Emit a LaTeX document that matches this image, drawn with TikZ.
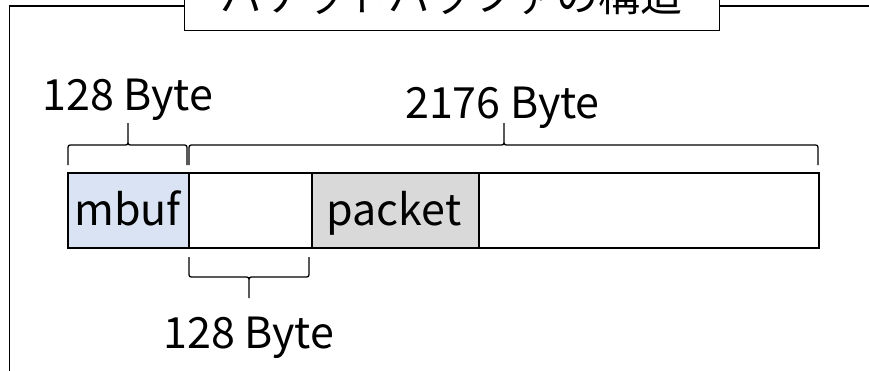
\documentclass[tikz,border=0pt]{standalone}
\usepackage{fontspec}
\setmainfont{Noto Sans CJK JP}
\definecolor{mbufblue}{HTML}{DAE3F3}
\definecolor{pktgray}{HTML}{D9D9D9}
\begin{document}
\begin{tikzpicture}[x=1pt,y=-1pt,
  cell/.style={draw=black, line width=1.6pt, inner sep=0pt, minimum height=75pt},
  lbl/.style={font=\fontsize{43}{46}\selectfont, inner sep=0pt, anchor=base},
  brace/.style={draw=black, line width=1.3pt},
  frame/.style={draw=black, line width=1.3pt}]
\useasboundingbox (0,0) rectangle (869,370);
\clip (0,0) rectangle (869,370);

% outer frame and title box
\draw[frame] (9.3,6) rectangle (900,420);
\node[frame, fill=white, anchor=south west, minimum width=535pt, minimum height=80pt, inner sep=0pt] (titlebox) at (184,31) {};
\node[font=\fontsize{42}{46}\selectfont, inner sep=0pt, anchor=base] (title) at (451,11) {パケットバッファの構造};

% buffer cells
\node[cell, fill=mbufblue, minimum width=121pt, anchor=north west] (mbuf) at (67,172) {};
\node[cell, fill=white, minimum width=123pt, anchor=north west] (head) at (188,172) {};
\node[cell, fill=pktgray, minimum width=167pt, anchor=north west] (pkt) at (311,172) {};
\node[cell, fill=white, minimum width=340pt, anchor=north west] (tail) at (478,172) {};
\node[lbl] (mbuftxt) at (127.5,225) {mbuf};
\node[lbl] (pkttxt) at (394,225) {packet};

% braces above the cells
\draw[brace] (68,165) -- (68,150) .. controls (68,145) .. (73,145) -- (123,145)
  .. controls (128,145) .. (128,140) -- (128,123) -- (128,140)
  .. controls (128,145) .. (133,145) -- (182,145) .. controls (187,145) .. (187,150) -- (187,165);
\draw[brace] (189,165) -- (189,150) .. controls (189,145) .. (194,145) -- (499,145)
  .. controls (504,145) .. (504,140) -- (504,123) -- (504,140)
  .. controls (504,145) .. (509,145) -- (813,145) .. controls (818,145) .. (818,150) -- (818,165);

% brace below the cells
\draw[brace] (189,257) -- (189,272) .. controls (189,277) .. (194,277) -- (244,277)
  .. controls (249,277) .. (249,282) -- (249,298) -- (249,282)
  .. controls (249,277) .. (254,277) -- (304,277) .. controls (309,277) .. (309,272) -- (309,257);

% size labels
\node[lbl] (sz1) at (128,110) {128 Byte};
\node[lbl] (sz2) at (502.5,118) {2176 Byte};
\node[lbl] (sz3) at (249,348) {128 Byte};
\end{tikzpicture}
\end{document}
